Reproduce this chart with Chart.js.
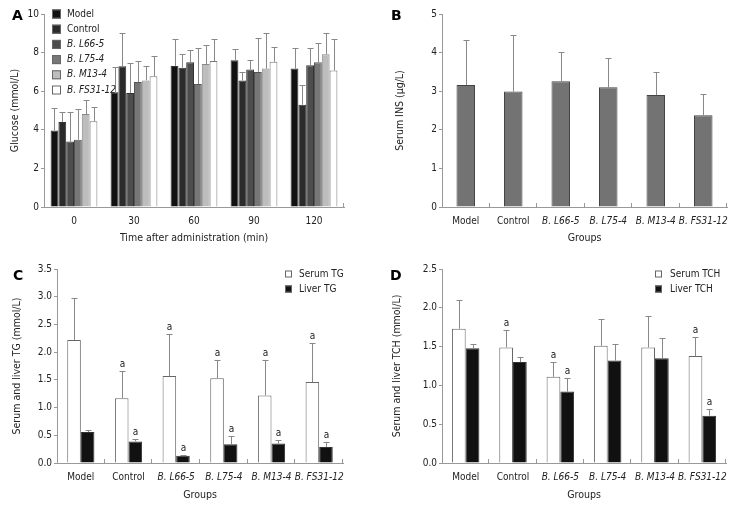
<!DOCTYPE html>
<html>
<head>
<meta charset="utf-8">
<script src="https://cdn.jsdelivr.net/npm/chart.js@4.4.1/dist/chart.umd.min.js"></script>
<style>
  body { margin: 0; background: #fff; width: 739px; height: 506px; position: relative; overflow: hidden; }
  .panel { position: absolute; }
  .letter { position: absolute; font: bold 14px "DejaVu Sans", sans-serif; color: #000; line-height: 14px; }
</style>
</head>
<body>
<div class="panel" style="left:0;top:0;width:370px;height:250px"><canvas id="chartA"></canvas></div>
<div class="panel" style="left:370px;top:0;width:369px;height:250px"><canvas id="chartB"></canvas></div>
<div class="panel" style="left:0;top:250px;width:370px;height:256px"><canvas id="chartC"></canvas></div>
<div class="panel" style="left:370px;top:250px;width:369px;height:256px"><canvas id="chartD"></canvas></div>
<div class="letter" style="left:12px;top:8px">A</div>
<div class="letter" style="left:391px;top:8px">B</div>
<div class="letter" style="left:13px;top:268px">C</div>
<div class="letter" style="left:390px;top:268px">D</div>
<script>
// ---- data ----
const timePoints = ['0', '30', '60', '90', '120'];
const groups = ['Model', 'Control', 'B. L66-5', 'B. L75-4', 'B. M13-4', 'B. FS31-12'];

// A: blood glucose (mmol/L) after administration, mean and SD
const glucoseModel = [3.97, 5.94, 7.31, 7.60, 7.17];
const glucoseControl = [4.40, 7.29, 7.22, 6.56, 5.30];
const glucoseL66 = [3.39, 5.91, 7.50, 7.12, 7.35];
const glucoseL75 = [3.49, 6.48, 6.37, 7.00, 7.50];
const glucoseM13 = [4.82, 6.56, 7.41, 7.17, 7.91];
const glucoseFS31 = [4.44, 6.77, 7.56, 7.52, 7.07];
const glucoseModelSD = [1.14, 1.33, 1.41, 0.57, 1.09];
const glucoseControlSD = [0.50, 1.71, 0.69, 0.43, 1.00];
const glucoseL66SD = [1.51, 1.53, 0.62, 0.52, 0.87];
const glucoseL75SD = [1.59, 1.10, 1.85, 1.74, 0.98];
const glucoseM13SD = [0.71, 0.77, 0.98, 1.87, 1.09];
const glucoseFS31SD = [0.72, 1.04, 1.12, 0.77, 1.61];

// B: serum insulin (ug/L)
const insulin = [3.16, 2.99, 3.26, 3.10, 2.90, 2.38];
const insulinSD = [1.17, 1.47, 0.76, 0.75, 0.60, 0.56];

// C: triglyceride (mmol/L)
const serumTG = [2.22, 1.17, 1.57, 1.53, 1.22, 1.46];
const serumTGSD = [0.76, 0.49, 0.75, 0.32, 0.64, 0.71];
const liverTG = [0.56, 0.39, 0.13, 0.34, 0.35, 0.29];
const liverTGSD = [0.04, 0.04, 0.02, 0.14, 0.07, 0.09];
const serumTGMark = ['', 'a', 'a', 'a', 'a', 'a'];
const liverTGMark = ['', 'a', 'a', 'a', 'a', 'a'];

// D: total cholesterol (mmol/L)
const serumTCH = [1.73, 1.49, 1.11, 1.51, 1.49, 1.38];
const serumTCHSD = [0.37, 0.23, 0.19, 0.34, 0.41, 0.24];
const liverTCH = [1.48, 1.30, 0.92, 1.32, 1.35, 0.61];
const liverTCHSD = [0.05, 0.06, 0.17, 0.21, 0.26, 0.08];
const serumTCHMark = ['', 'a', 'a', '', '', 'a'];
const liverTCHMark = ['', '', 'a', '', '', 'a'];

const FONT = '"DejaVu Sans Condensed", "DejaVu Sans", sans-serif';
Chart.defaults.font.family = FONT;
Chart.defaults.font.size = 10;
Chart.defaults.color = '#222';

// ---- plugins ----
// error bars (mean + SD) and significance letters
const errorBars = {
  id: 'errorBars',
  afterDatasetsDraw(chart) {
    const ctx = chart.ctx;
    const y = chart.scales.y;
    ctx.save();
    chart.data.datasets.forEach((ds, i) => {
      if (!ds.sd) return;
      chart.getDatasetMeta(i).data.forEach((bar, j) => {
        const x = Math.round(bar.x) + 0.5;
        const top = Math.round(y.getPixelForValue(ds.data[j] + ds.sd[j])) + 0.5;
        ctx.strokeStyle = '#888';
        ctx.lineWidth = 1;
        ctx.beginPath();
        ctx.moveTo(x, bar.y);
        ctx.lineTo(x, top);
        ctx.moveTo(x - 3, top);
        ctx.lineTo(x + 3, top);
        ctx.stroke();
        if (ds.marks && ds.marks[j]) {
          ctx.fillStyle = '#222';
          ctx.font = '10px ' + FONT;
          ctx.textAlign = 'center';
          ctx.textBaseline = 'alphabetic';
          ctx.fillText(ds.marks[j], x, top - 5);
        }
      });
    });
    ctx.restore();
  }
};

// short upward marks on the x axis between groups
const edgeTicks = {
  id: 'edgeTicks',
  afterDraw(chart, args, opts) {
    const x = chart.scales.x;
    const n = chart.data.labels.length;
    const half = (x.getPixelForValue(1) - x.getPixelForValue(0)) / 2;
    const bottom = chart.chartArea.bottom;
    const ctx = chart.ctx;
    ctx.save();
    ctx.strokeStyle = '#999';
    ctx.lineWidth = 1;
    ctx.beginPath();
    for (let i = opts.all ? 0 : n - 1; i < n; i++) {
      const px = Math.round(x.getPixelForValue(i) + half) - 0.5;
      ctx.moveTo(px, bottom);
      ctx.lineTo(px, bottom - 4);
    }
    ctx.stroke();
    ctx.restore();
  }
};

// square legend with italic strain names
const boxLegend = {
  id: 'boxLegend',
  afterDraw(chart, args, opts) {
    if (!opts.x) return;
    const ctx = chart.ctx;
    ctx.save();
    chart.data.datasets.forEach((ds, i) => {
      const cy = opts.y + i * opts.step;
      ctx.fillStyle = ds.backgroundColor;
      ctx.strokeStyle = '#666';
      ctx.lineWidth = 1;
      ctx.fillRect(opts.x, cy - opts.box / 2, opts.box, opts.box);
      ctx.strokeRect(opts.x + 0.5, cy - opts.box / 2 + 0.5, opts.box - 1, opts.box - 1);
      ctx.fillStyle = '#222';
      ctx.font = (ds.label.startsWith('B.') ? 'italic ' : '') + '10px ' + FONT;
      ctx.textAlign = 'left';
      ctx.textBaseline = 'middle';
      ctx.fillText(ds.label, opts.textX, cy);
    });
    ctx.restore();
  }
};

function makeChart(id, labels, datasets, o) {
  return new Chart(document.getElementById(id), {
    type: 'bar',
    data: { labels: labels, datasets: datasets },
    options: {
      responsive: true,
      maintainAspectRatio: false,
      animation: false,
      layout: { padding: { left: 0, top: o.top, right: o.right, bottom: 0 } },
      plugins: {
        legend: { display: false },
        tooltip: { enabled: false },
        edgeTicks: { all: o.allTicks },
        boxLegend: o.legend || {}
      },
      scales: {
        x: {
          grid: { display: false, drawTicks: false },
          border: { color: '#999' },
          ticks: {
            padding: 8,
            autoSkip: false,
            maxRotation: 0,
            font: (c) => ({ size: 10, style: String(labels[c.index]).startsWith('B.') ? 'italic' : 'normal' })
          },
          title: { display: true, text: o.xTitle, font: { size: 10.5 }, padding: { top: 0, bottom: o.xTitlePad } },
          afterFit(s) { s.height = o.xHeight; s.paddingLeft = 0; s.paddingRight = 0; }
        },
        y: {
          min: 0,
          max: o.max,
          ticks: { stepSize: o.step, padding: 2, callback: o.fmt },
          grid: { drawOnChartArea: false, tickLength: 3, color: '#999' },
          border: { color: '#999' },
          title: { display: true, text: o.yTitle, font: { size: 10.5 }, padding: { top: o.yTitlePad, bottom: 0 } },
          afterFit(s) { s.width = o.yWidth; s.paddingTop = 0; s.paddingBottom = 0; }
        }
      }
    },
    plugins: [errorBars, edgeTicks, boxLegend]
  });
}

function bars(label, data, sd, color, border, pct, marks) {
  return {
    label: label, data: data, sd: sd, marks: marks,
    backgroundColor: color, borderColor: border, borderWidth: 1,
    categoryPercentage: pct, barPercentage: 1
  };
}

// ---- A ----
makeChart('chartA', timePoints, [
  bars(groups[0], glucoseModel, glucoseModelSD, '#111', '#333', 0.78),
  bars(groups[1], glucoseControl, glucoseControlSD, '#2b2b2b', '#333', 0.78),
  bars(groups[2], glucoseL66, glucoseL66SD, '#4d4d4d', '#333', 0.78),
  bars(groups[3], glucoseL75, glucoseL75SD, '#777', '#555', 0.78),
  bars(groups[4], glucoseM13, glucoseM13SD, '#bdbdbd', '#888', 0.78),
  bars(groups[5], glucoseFS31, glucoseFS31SD, '#fff', '#777', 0.78)
], {
  top: 14, right: 26, yWidth: 44, xHeight: 43, max: 10, step: 2,
  yTitle: 'Glucose (mmol/L)', yTitlePad: 8.5,
  xTitle: 'Time after administration (min)', xTitlePad: 5.4,
  allTicks: false,
  legend: { x: 52, y: 14, step: 15.2, box: 9, textX: 67 }
});

// ---- B ----
makeChart('chartB', groups, [
  bars('Serum INS', insulin, insulinSD, '#737373', '#444', 0.39)
], {
  top: 14, right: 12, yWidth: 72, xHeight: 43, max: 5, step: 1,
  yTitle: 'Serum INS (\u03bcg/L)', yTitlePad: 24,
  xTitle: 'Groups', xTitlePad: 5.4,
  allTicks: true
});

// ---- C ----
const oneDecimal = (v) => v.toFixed(1);
makeChart('chartC', groups, [
  bars('Serum TG', serumTG, serumTGSD, '#fff', '#666', 0.57, serumTGMark),
  bars('Liver TG', liverTG, liverTGSD, '#111', '#333', 0.57, liverTGMark)
], {
  top: 19, right: 27, yWidth: 57, xHeight: 43, max: 3.5, step: 0.5, fmt: oneDecimal,
  yTitle: 'Serum and liver TG (mmol/L)', yTitlePad: 11,
  xTitle: 'Groups', xTitlePad: 4.7,
  allTicks: true,
  legend: { x: 285, y: 24, step: 15, box: 7, textX: 299 }
});

// ---- D ----
makeChart('chartD', groups, [
  bars('Serum TCH', serumTCH, serumTCHSD, '#fff', '#666', 0.58, serumTCHMark),
  bars('Liver TCH', liverTCH, liverTCHSD, '#111', '#333', 0.58, liverTCHMark)
], {
  top: 19, right: 13, yWidth: 72, xHeight: 43, max: 2.5, step: 0.5, fmt: oneDecimal,
  yTitle: 'Serum and liver TCH (mmol/L)', yTitlePad: 20.5,
  xTitle: 'Groups', xTitlePad: 4.7,
  allTicks: true,
  legend: { x: 285, y: 24, step: 15, box: 7, textX: 300 }
});
</script>
</body>
</html>
